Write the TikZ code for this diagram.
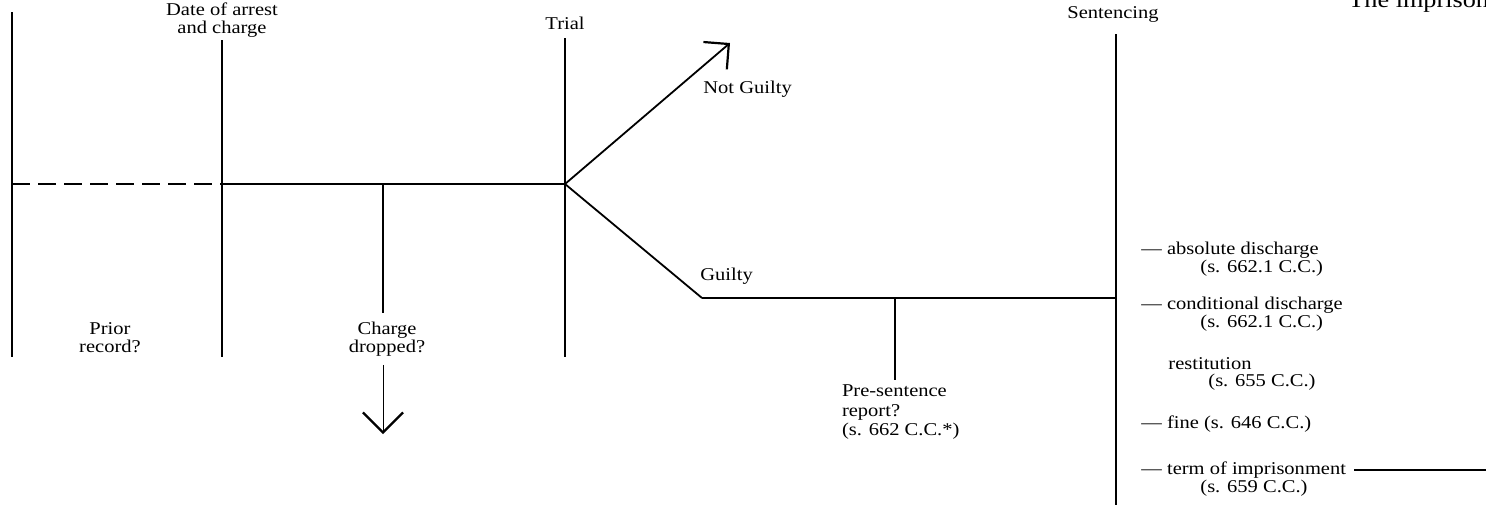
\documentclass[tikz,border=0pt]{standalone}
\usepackage{fontspec}
\setmainfont[FakeStretch=1.14]{Liberation Serif}
\usetikzlibrary{arrows.meta}
\begin{document}
\begin{tikzpicture}[x=0.5pt,y=-0.5pt,
  lab/.style={inner sep=0pt, font=\fontsize{9}{9}\selectfont, align=center},
  item/.style={inner sep=0pt, font=\fontsize{9}{9}\selectfont, anchor=base west},
  ln/.style={line width=1.1pt},
  thinln/.style={line width=0.9pt},
  dashline/.style={line width=1.3pt, dash pattern=on 9pt off 4pt},
  tipcd/.style={-{Straight Barb[length=10pt,width=20pt,line width=1.1pt]}},
  tipng/.style={-{Straight Barb[length=9pt,width=18pt,line width=1.1pt]}}]
\useasboundingbox (0,0) rectangle (1486,504);
\begin{scope}
\clip (0,0) rectangle (1486,504);
% coordinates
\coordinate (L0) at (12,12);
\coordinate (L1) at (12,357);
\coordinate (P) at (12,184);
\coordinate (D0) at (222,40);
\coordinate (D1) at (222,357);
\coordinate (D) at (222,184);
\coordinate (T0) at (565,38);
\coordinate (T1) at (565,357);
\coordinate (T) at (565,184);
\coordinate (C) at (383,184);
\coordinate (C3) at (383,434);
\coordinate (NG) at (730,43);
\coordinate (G) at (702,298);
\coordinate (R) at (895,298);
\coordinate (S0) at (1116,34);
\coordinate (S1) at (1116,510);
\coordinate (S) at (1116,298);
\coordinate (E) at (1486,470);

% labels
\node[lab, anchor=base] (date) at (222,33) {Date of arrest\\and charge};
\node[lab, anchor=base] (trial) at (565,29) {Trial};
\node[lab, anchor=base] (sent) at (1113,18) {Sentencing};
\node[lab, anchor=base west] (ngl) at (703,93) {Not Guilty};
\node[lab, anchor=base west] (gl) at (700,280) {Guilty};
\node[lab, anchor=base] (prior) at (110,352) {Prior\\record?};
\node[lab, anchor=base, outer sep=4.5pt] (cd) at (387,352) {Charge\\dropped?};
\node[lab, align=left, anchor=north west, font=\fontsize{9}{9.8}\selectfont, outer sep=2.5pt] (ps) at (837,380) {Pre-sentence\\report?\\(s. 662 C.C.*)};
\node[inner sep=0pt, font=\fontsize{11.5}{12}\selectfont, anchor=base west] (hdr) at (1348,7) {The imprisonment};

\node[item] (abs) at (1141,254) {— absolute discharge};
\node[item] (abss) at (1200,272) {(s. 662.1 C.C.)};
\node[item] (cond) at (1141,309) {— conditional discharge};
\node[item] (conds) at (1200,327) {(s. 662.1 C.C.)};
\node[item] (rest) at (1168,369) {restitution};
\node[item] (rests) at (1208,386) {(s. 655 C.C.)};
\node[item] (fine) at (1141,428) {— fine (s. 646 C.C.)};
\node[item] (term) at (1141,474) {— term of imprisonment};
\node[item] (terms) at (1200,492) {(s. 659 C.C.)};

% vertical lines
\draw[ln] (L0) -- (L1);
\draw[ln] (D0) -- (D1);
\draw[ln] (T0) -- (T1);
\draw[ln] (S0) -- (S1);

% time line
\draw[dashline] (P) -- (D);
\draw[ln] (D) -- (T);
\draw[ln] (C) -- (cd.north -| C);
\draw[tipcd] (cd.south -| C) -- (C3);
\draw[thinln, tipng] (T) -- (NG);
\draw[thinln] (T) -- (G);
\draw[ln] (G) -- (S);
\draw[ln] (R) -- (ps.north -| R);
\draw[thinln] ([xshift=4pt]term.east |- E) -- (E);
\end{scope}
\end{tikzpicture}
\end{document}
